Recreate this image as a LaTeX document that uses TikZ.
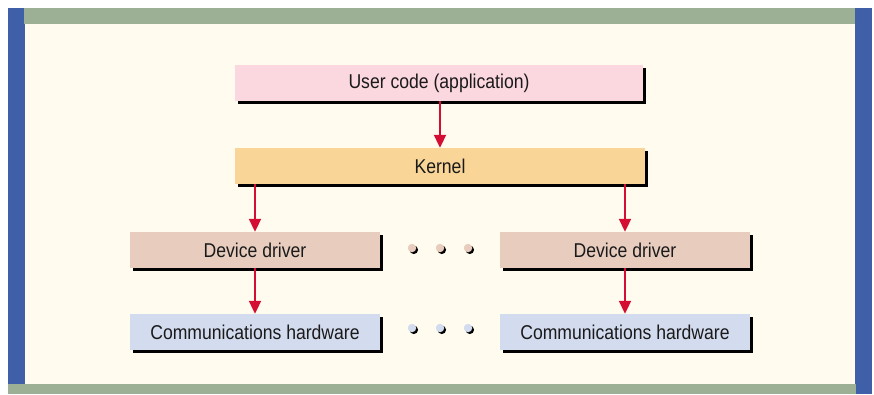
\documentclass[tikz,border=0pt]{standalone}
\usepackage{fontspec}
\setmainfont{Liberation Sans}[FakeStretch=0.88]
\usetikzlibrary{arrows.meta,shadows}

\definecolor{barblue}{HTML}{3F5FA8}
\definecolor{bargreen}{HTML}{9BB095}
\definecolor{paper}{HTML}{FFFCEF}
\definecolor{userpink}{HTML}{FBD7E0}
\definecolor{kernelorange}{HTML}{F9D598}
\definecolor{driverbrown}{HTML}{E8CDBF}
\definecolor{hwblue}{HTML}{D3DBEE}
\definecolor{flowred}{HTML}{D40E32}
\definecolor{ink}{HTML}{1A1A1A}

\tikzset{
  layer/.style={draw=none, minimum height=36pt, inner sep=0pt, text=ink,
    font=\fontsize{20}{23}\selectfont,
    general shadow={fill=black, shadow xshift=3pt, shadow yshift=-3pt}},
  flow/.style={draw=flowred, line width=2pt,
    -{Triangle[width=12pt,length=13pt]}},
  dotmark/.style={circle, inner sep=0pt, minimum size=8.5pt,
    general shadow={fill=black, shadow xshift=1.8pt, shadow yshift=-1.8pt}}
}

\begin{document}
\begin{tikzpicture}[x=1pt,y=-1pt]
  \useasboundingbox (0,0) rectangle (874,394);

  % frame and background
  \fill[paper] (25,24) rectangle (855,384);
  \fill[barblue] (8,8) rectangle (25,384);
  \fill[bargreen] (24,8) rectangle (855,24);
  \fill[barblue] (855,8) rectangle (872,394);
  \fill[bargreen] (8,383.5) rectangle (856,394);

  % layers
  \node[layer, fill=userpink, minimum width=408pt] (user) at (439,83) {User code (application)};
  \node[layer, fill=kernelorange, minimum width=410pt] (kernel) at (440,166) {Kernel};
  \node[layer, fill=driverbrown, minimum width=250pt] (drvA) at (255,250) {Device driver};
  \node[layer, fill=driverbrown, minimum width=250pt] (drvB) at (625,250) {Device driver};
  \node[layer, fill=hwblue, minimum width=250pt] (hwA) at (255,332) {Communications hardware};
  \node[layer, fill=hwblue, minimum width=250pt] (hwB) at (625,332) {Communications hardware};

  % ellipsis dots between the two columns
  \foreach \i/\x in {1/412,2/440,3/468} {
    \node[dotmark, fill=driverbrown] (ddot\i) at (\x,248) {};
    \node[dotmark, fill=hwblue] (hdot\i) at (\x,328) {};
  }

  % calls flowing down the stack
  \draw[flow] (user.south -| kernel.north) -- (kernel.north);
  \draw[flow] (kernel.south -| drvA.north) -- (drvA.north);
  \draw[flow] (kernel.south -| drvB.north) -- (drvB.north);
  \draw[flow] (drvA.south) -- (hwA.north);
  \draw[flow] (drvB.south) -- (hwB.north);
\end{tikzpicture}
\end{document}
